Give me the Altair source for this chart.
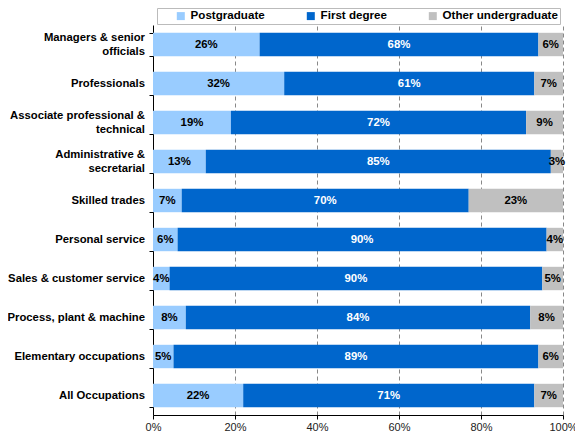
import altair as alt
import pandas as pd

categories = [
    "Managers & senior\nofficials",
    "Professionals",
    "Associate professional &\ntechnical",
    "Administrative &\nsecretarial",
    "Skilled trades",
    "Personal service",
    "Sales & customer service",
    "Process, plant & machine",
    "Elementary occupations",
    "All Occupations",
]
series = ["Postgraduate", "First degree", "Other undergraduate"]
postgraduate = [26, 32, 19, 13, 7, 6, 4, 8, 5, 22]
first_degree = [68, 61, 72, 85, 70, 90, 90, 84, 89, 71]
other_undergraduate = [6, 7, 9, 3, 23, 4, 5, 8, 6, 7]
colors = ["#99CCFF", "#0066CC", "#C0C0C0"]
text_colors = ["black", "white", "black"]

rows = []
for i, c in enumerate(categories):
    for j, (s, vals) in enumerate(zip(series, [postgraduate, first_degree, other_undergraduate])):
        rows.append({"category": c, "series": s, "value": vals[i], "order": j,
                     "tcolor": text_colors[j]})
df = pd.DataFrame(rows)
cat_df = pd.DataFrame({"category": categories})

FONT = "Liberation Sans"
FS = 11.3

base = alt.Chart(df).transform_stack(
    stack="value", groupby=["category"], sort=[alt.SortField("order")],
    as_=["x0", "x1"], offset="normalize"
).transform_calculate(
    mid="(datum.x0 + datum.x1) / 2"
)

y_enc = alt.Y("category:N", sort=categories, title=None,
              scale=alt.Scale(paddingInner=0.4, paddingOuter=0.2),
              axis=alt.Axis(labels=False,
                            domainColor="black", tickColor="black", tickSize=4,
                            tickBand="extent", grid=False))

bars = base.mark_bar().encode(
    x=alt.X("x0:Q", scale=alt.Scale(domain=[0, 1], nice=False), title=None,
            axis=alt.Axis(format=".0%", values=[0, 0.2, 0.4, 0.6, 0.8, 1.0],
                          labelFont=FONT, labelFontSize=11, labelColor="#222222",
                          labelFlush=False,
                          domainColor="black", tickColor="black", tickSize=4,
                          grid=True, gridColor="#888888", gridDash=[4, 3],
                          labelPadding=2)),
    x2="x1:Q",
    y=y_enc,
    color=alt.Color("series:N", sort=series,
                    scale=alt.Scale(domain=series, range=colors),
                    legend=alt.Legend(title=None, orient="none", direction="horizontal",
                                      legendX=4, legendY=-17,
                                      symbolType="square", symbolSize=64,
                                      symbolStrokeWidth=0, symbolOffset=16,
                                      labelFont=FONT, labelFontSize=11.6,
                                      labelFontWeight="bold", labelColor="black",
                                      columnPadding=24, padding=2,
                                      strokeColor="#BBBBBB", fillColor="white")),
    order=alt.Order("order:Q"),
)

labels = base.transform_calculate(
    pct="datum.value + '%'"
).mark_text(font=FONT, fontSize=11.4, fontWeight="bold").encode(
    x=alt.X("mid:Q"),
    y=alt.Y("category:N", sort=categories),
    text=alt.Text("pct:N"),
    color=alt.Color("tcolor:N", scale=None),
)

cat_base = alt.Chart(cat_df).encode(
    x=alt.value(-8),
    y=alt.Y("category:N", sort=categories),
    text="category:N",
)
cat_style = dict(font=FONT, fontSize=FS, fontWeight="bold", align="right",
                 baseline="middle", lineBreak="\n", lineHeight=14, color="black")
cat_single = cat_base.transform_filter(
    "indexof(datum.category, '\\n') < 0"
).mark_text(**cat_style)
cat_double = cat_base.transform_filter(
    "indexof(datum.category, '\\n') >= 0"
).mark_text(dy=-7, **cat_style)

chart = alt.layer(bars, labels, cat_single, cat_double).properties(
    width=410, height=390,
    autosize=alt.AutoSizeParams(type="none"),
    padding={"left": 145, "top": 17, "right": 12, "bottom": 21},
).configure_view(stroke=None).configure_axis(grid=False)

chart.save("out.html", embed_options={"renderer": "svg", "actions": False})
